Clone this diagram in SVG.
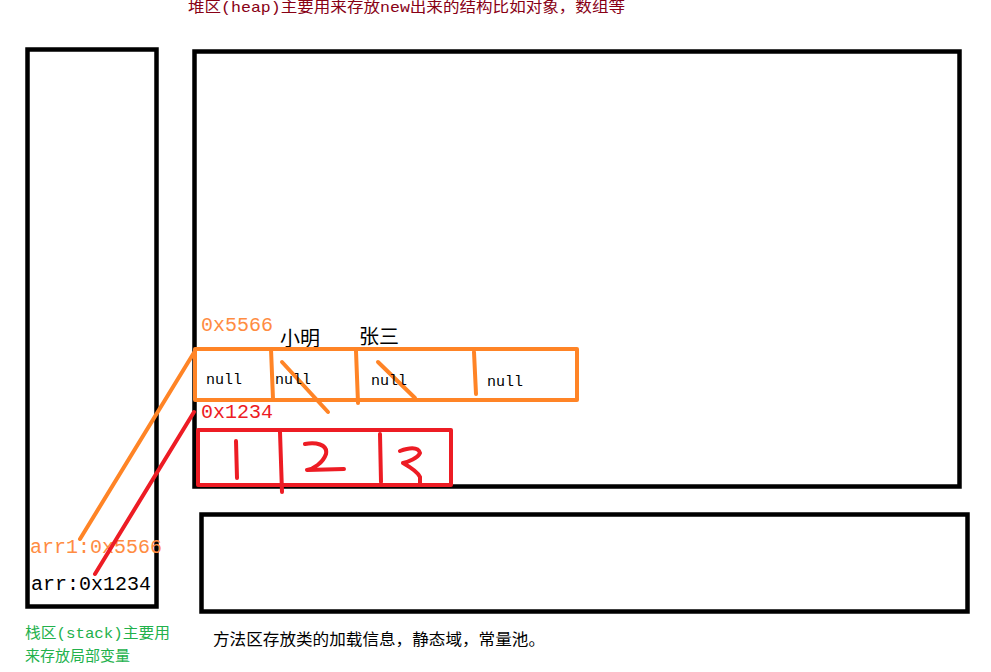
<svg xmlns="http://www.w3.org/2000/svg" width="991" height="672" viewBox="0 0 991 672">
<style>
.box{fill:none;stroke:#000;stroke-width:4.5}
.ob{stroke:#FF8426;stroke-width:4;fill:none;stroke-linecap:round;stroke-linejoin:round}
.rb{stroke:#ED1C24;stroke-width:4;fill:none;stroke-linecap:round;stroke-linejoin:round}
.cn{font-family:"Liberation Mono","Noto Sans CJK SC",monospace}
.mono{font-family:"Liberation Mono","Noto Sans CJK SC",monospace}
</style>
<rect width="991" height="672" fill="#fff"/>
<text class="cn" x="188" y="12" font-size="15" fill="#880015" textLength="437" lengthAdjust="spacingAndGlyphs">堆区(heap)主要用来存放new出来的结构比如对象，数组等</text>
<g id="stack">
<rect class="box" x="27.5" y="49.5" width="129" height="557"/>
<text class="mono" x="30" y="553" font-size="20" fill="#FF8C42">arr1:0x5566</text>
<text class="mono" x="31" y="590" font-size="20" fill="#000">arr:0x1234</text>
<text class="cn" x="25" y="638" font-size="15" fill="#22B14C" textLength="145" lengthAdjust="spacingAndGlyphs">栈区(stack)主要用</text>
<text class="cn" x="25" y="661" font-size="15" fill="#22B14C">来存放局部变量</text>
</g>
<g id="heap">
<rect class="box" x="194.5" y="51.5" width="765" height="435"/>
</g>
<g id="method">
<rect class="box" x="201.5" y="514.5" width="766" height="97"/>
<text class="cn" x="213" y="645" font-size="16" fill="#000" textLength="332" lengthAdjust="spacingAndGlyphs">方法区存放类的加载信息，静态域，常量池。</text>
</g>
<g id="arr1">
<text class="mono" x="201" y="331" font-size="20" fill="#FF8C42">0x5566</text>
<text class="cn" x="280" y="346" font-size="20" fill="#000">小明</text>
<text class="cn" x="359" y="344" font-size="20" fill="#000">张三</text>
<rect class="ob" x="195" y="349" width="382" height="51"/>
<path class="ob" d="M271,349 L273,399 M356,351 L358,403 M474,352 L476,394 M282,362 L328,412 M378,362 L415,398"/>
<text class="mono" x="206" y="384" font-size="15" fill="#000">null</text>
<text class="mono" x="275" y="384" font-size="15" fill="#000">null</text>
<text class="mono" x="371" y="385" font-size="15" fill="#000">null</text>
<text class="mono" x="487" y="386" font-size="15" fill="#000">null</text>
</g>
<g id="arr">
<text class="mono" x="201" y="418" font-size="20" fill="#ED1C24">0x1234</text>
<rect class="rb" x="198" y="430" width="253" height="55"/>
<path class="rb" d="M280,432 L282,492 M380,434 L381,482 M236,441 L237,478 M305,444 C315,442 328,444 326,454 C323,463 313,469 307,470 L344,469 M400,451 C408,448 418,446 420,453 C418,458 408,462 403,463 C410,467 418,472 420,477 L420,484"/>
</g>
<g id="connectors">
<path class="ob" d="M195,351 L80,539"/>
<path class="rb" d="M194,412 L95,574"/>
</g>
</svg>
